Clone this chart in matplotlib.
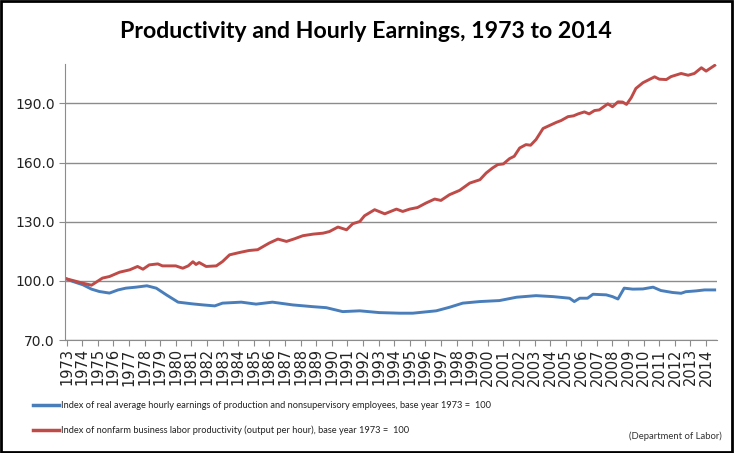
import matplotlib
matplotlib.use("Agg")
import matplotlib.pyplot as plt
from matplotlib.patches import Rectangle

# values (year, index value)
earn_years = [1973.0, 1973.4, 1974.05, 1974.6, 1975.1, 1975.75, 1976.3, 1976.8, 1977.45,
              1978.15, 1978.75, 1979.4, 1980.15, 1981.1, 1981.75, 1982.5, 1983.0, 1984.2,
              1985.15, 1986.2, 1987.5, 1988.8, 1989.65, 1990.7, 1991.8, 1993.05, 1994.35,
              1995.2, 1996.7, 1997.55, 1998.4, 1999.5, 2000.75, 2001.85, 2003.1, 2004.2,
              2005.25, 2005.55, 2005.9, 2006.4, 2006.75, 2007.6, 2008.0, 2008.35, 2008.75,
              2009.3, 2009.95, 2010.6, 2011.1, 2011.85, 2012.4, 2012.7, 2013.35, 2013.9, 2014.55]
earn_vals = [101.0, 99.7, 98.0, 95.8, 94.6, 93.8, 95.4, 96.3, 96.8,
             97.5, 96.3, 92.9, 89.2, 88.3, 87.8, 87.3, 88.7, 89.2,
             88.2, 89.2, 87.8, 86.9, 86.4, 84.4, 84.8, 83.9, 83.6,
             83.6, 84.8, 86.6, 88.7, 89.5, 90.0, 91.7, 92.5, 92.0,
             91.2, 89.5, 91.2, 91.2, 93.2, 92.9, 92.0, 90.8, 96.3,
             95.8, 95.9, 96.8, 95.1, 94.1, 93.7, 94.5, 94.9, 95.4, 95.4]

prod_years = [1973.0, 1973.4, 1974.05, 1974.6, 1975.3, 1975.75, 1976.4, 1977.05, 1977.55,
              1977.9, 1978.3, 1978.85, 1979.15, 1980.0, 1980.45, 1980.8, 1981.1, 1981.3,
              1981.5, 1981.95, 1982.6, 1983.0, 1983.45, 1984.1, 1984.7, 1985.25, 1985.8,
              1986.0, 1986.55, 1987.1, 1987.6, 1988.15, 1988.8, 1989.45, 1989.85, 1990.4,
              1990.95, 1991.35, 1991.8, 1992.1, 1992.75, 1993.4, 1994.15, 1994.55, 1995.0,
              1995.5, 1996.05, 1996.6, 1997.0, 1997.55, 1998.2, 1998.85, 1999.5, 1999.9,
              2000.3, 2000.65, 2001.0, 2001.4, 2001.7, 2002.05, 2002.45, 2002.75, 2003.1,
              2003.55, 2003.85, 2004.4, 2004.7, 2005.15, 2005.5, 2005.8, 2006.2, 2006.5,
              2006.85, 2007.15, 2007.7, 2008.0, 2008.35, 2008.65, 2008.9, 2009.2, 2009.5,
              2009.95, 2010.25, 2010.7, 2011.0, 2011.45, 2011.75, 2012.4, 2012.85, 2013.25,
              2013.7, 2014.0, 2014.55]
prod_vals = [101.0, 100.2, 98.8, 97.8, 101.4, 102.2, 104.4, 105.6, 107.3,
             105.9, 108.1, 108.6, 107.6, 107.6, 106.4, 107.6, 109.7, 108.3,
             109.3, 107.3, 107.6, 109.8, 113.2, 114.4, 115.4, 115.8, 118.3,
             119.2, 121.2, 120.0, 121.3, 122.9, 123.7, 124.2, 125.0, 127.3,
             125.9, 129.0, 130.1, 133.0, 136.1, 134.0, 136.4, 135.2, 136.4,
             137.2, 139.5, 141.5, 140.8, 143.7, 145.9, 149.6, 151.3, 154.7,
             157.2, 159.0, 159.3, 162.0, 163.2, 167.4, 169.1, 168.8, 171.7,
             177.3, 178.4, 180.4, 181.3, 183.3, 183.7, 184.7, 185.7, 184.7,
             186.4, 186.7, 189.8, 188.3, 190.8, 190.7, 189.5, 192.9, 197.6,
             200.5, 201.7, 203.5, 202.3, 202.1, 203.6, 205.2, 204.3, 205.2,
             208.1, 206.4, 209.3]

years = list(range(1973, 2015))
yticks = [70, 100, 130, 160, 190]

earn_label = "Index of real average hourly earnings of production and nonsupervisory employees, base year 1973 =  100"
prod_label = "Index of nonfarm business labor productivity (output per hour), base year 1973 =  100"

blue = "#4A7EBB"
red = "#BE4B48"
grid = "#8C8C8C"

fig = plt.figure(figsize=(7.34, 4.53), dpi=100)
ax = fig.add_axes([65 / 734, 1 - 340 / 453, 652 / 734, 276 / 453])

ax.plot(earn_years, earn_vals, color=blue, lw=2.1, solid_joinstyle="round")
ax.plot(prod_years, prod_vals, color=red, lw=2.1, solid_joinstyle="round")

ax.set_xlim(1972.9, 2014.7)
ax.set_ylim(70, 210)
ax.set_yticks(yticks)
ax.set_yticklabels([f"{v:.1f}" for v in yticks], fontsize=10, color="#222222")
ax.set_xticks(years)
ax.set_xticklabels([str(y) for y in years], rotation=90, fontsize=10.5, color="#222222")
ax.yaxis.grid(True, color=grid, lw=1)
ax.set_axisbelow(True)
for s in ["top", "right"]:
    ax.spines[s].set_visible(False)
for s in ["left", "bottom"]:
    ax.spines[s].set_color(grid)
ax.tick_params(axis="both", colors=grid, length=4, labelcolor="#222222")
ax.tick_params(axis="x", pad=2)

fig.text(366 / 734, 1 - 32 / 453, "Productivity and Hourly Earnings, 1973 to 2014",
         ha="center", va="center", fontsize=16.7, fontweight="bold", family="Lato")

# legend drawn by hand underneath
fig.lines.append(plt.Line2D([33 / 734, 59 / 734], [1 - 405 / 453] * 2, color=blue, lw=2.5,
                            transform=fig.transFigure))
fig.lines.append(plt.Line2D([33 / 734, 59 / 734], [1 - 430 / 453] * 2, color=red, lw=2.5,
                            transform=fig.transFigure))
fig.text(61 / 734, 1 - 405 / 453, earn_label, ha="left", va="center", fontsize=6.7,
         family="Lato", color="#222222")
fig.text(61 / 734, 1 - 430 / 453, prod_label, ha="left", va="center", fontsize=6.7,
         family="Lato", color="#222222")
fig.text(722 / 734, 1 - 436 / 453, "(Department of Labor)", ha="right", va="center",
         fontsize=6.8, family="Lato", color="#333333")

fig.patches.append(Rectangle((0.001, 0.002), 0.996, 0.995, transform=fig.transFigure,
                             fill=False, ec="black", lw=2))

fig.savefig("out.png", dpi=100)
